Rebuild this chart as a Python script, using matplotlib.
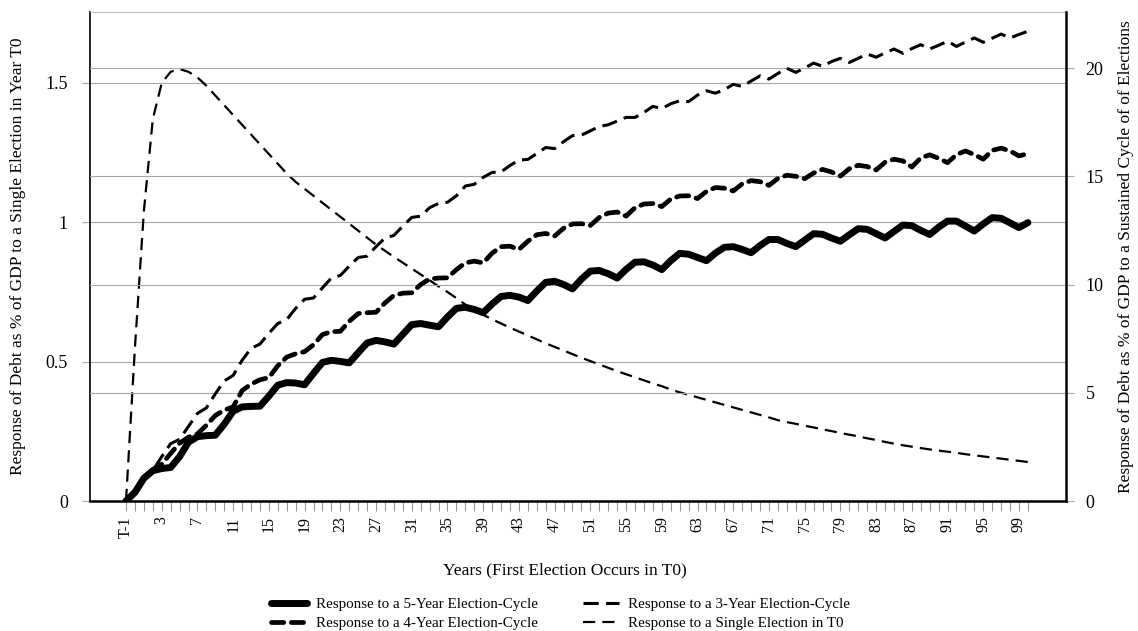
import numpy as np
import matplotlib.pyplot as plt
from matplotlib.lines import Line2D

plt.rcParams['font.family'] = ['Liberation Serif', 'DejaVu Serif']

# ---------------------------
# Data
# ---------------------------
years = ["T-1", "T0"] + [str(y) for y in range(1, 101)]

# left axis: single election in T0
single_election = [
    0.00, 0.55, 1.04, 1.37, 1.50, 1.54, 1.55, 1.54, 1.52, 1.49,
    1.455, 1.42, 1.385, 1.35, 1.315, 1.28, 1.245, 1.21, 1.175, 1.145,
    1.12, 1.095, 1.07, 1.045, 1.02, 0.995, 0.97, 0.945, 0.92, 0.898,
    0.876, 0.855, 0.834, 0.813, 0.792, 0.77, 0.75, 0.728, 0.705, 0.686,
    0.668, 0.652, 0.637, 0.622, 0.608, 0.594, 0.58, 0.566, 0.553, 0.54,
    0.527, 0.514, 0.502, 0.49, 0.478, 0.466, 0.455, 0.444, 0.433, 0.422,
    0.412, 0.40, 0.39, 0.381, 0.372, 0.363, 0.354, 0.345, 0.336, 0.327,
    0.318, 0.309, 0.30, 0.29, 0.283, 0.277, 0.27, 0.264, 0.257, 0.251,
    0.244, 0.238, 0.232, 0.225, 0.219, 0.212, 0.206, 0.20, 0.195, 0.19,
    0.185, 0.181, 0.177, 0.173, 0.168, 0.164, 0.16, 0.156, 0.152, 0.148,
    0.144, 0.14,
]

# right axis: sustained election cycles
cycle_5yr = [
    0.00, 0.40, 1.05, 1.40, 1.50, 1.55, 2.05, 2.72, 2.97, 3.02,
    3.04, 3.55, 4.15, 4.35, 4.37, 4.38, 4.85, 5.35, 5.47, 5.45,
    5.37, 5.90, 6.40, 6.50, 6.45, 6.38, 6.85, 7.30, 7.42, 7.35,
    7.25, 7.70, 8.15, 8.20, 8.12, 8.05, 8.50, 8.90, 8.95, 8.85,
    8.70, 9.10, 9.45, 9.50, 9.42, 9.26, 9.70, 10.10, 10.15, 10.00,
    9.80, 10.25, 10.62, 10.65, 10.50, 10.30, 10.70, 11.03, 11.05, 10.90,
    10.69, 11.10, 11.44, 11.40, 11.25, 11.10, 11.45, 11.72, 11.75, 11.62,
    11.47, 11.80, 12.08, 12.08, 11.90, 11.75, 12.05, 12.35, 12.32, 12.15,
    12.00, 12.30, 12.58, 12.55, 12.35, 12.15, 12.45, 12.75, 12.72, 12.50,
    12.31, 12.65, 12.93, 12.93, 12.70, 12.47, 12.80, 13.09, 13.06, 12.85,
    12.63, 12.86,
]

cycle_4yr = [
    0.00, 0.40, 1.05, 1.45, 1.70, 2.20, 2.67, 2.95, 3.10, 3.50,
    3.95, 4.20, 4.35, 5.10, 5.40, 5.60, 5.70, 6.25, 6.65, 6.80,
    6.90, 7.22, 7.69, 7.82, 7.84, 8.30, 8.66, 8.70, 8.72, 9.15,
    9.50, 9.60, 9.62, 10.00, 10.26, 10.30, 10.31, 10.69, 11.00, 11.08,
    11.00, 11.45, 11.75, 11.77, 11.62, 12.00, 12.30, 12.36, 12.24, 12.60,
    12.80, 12.81, 12.73, 13.10, 13.30, 13.35, 13.16, 13.55, 13.72, 13.74,
    13.60, 13.95, 14.09, 14.10, 13.97, 14.30, 14.48, 14.45, 14.32, 14.65,
    14.80, 14.75, 14.58, 14.90, 15.05, 15.00, 14.89, 15.15, 15.32, 15.20,
    15.01, 15.35, 15.51, 15.45, 15.29, 15.65, 15.79, 15.71, 15.43, 15.85,
    15.99, 15.83, 15.63, 16.00, 16.17, 16.00, 15.79, 16.20, 16.30, 16.17,
    15.94, 16.05,
]

cycle_3yr = [
    0.00, 0.40, 1.05, 1.40, 2.05, 2.65, 2.85, 3.45, 4.05, 4.30,
    4.95, 5.55, 5.80, 6.50, 7.05, 7.25, 7.75, 8.20, 8.38, 8.90,
    9.32, 9.38, 9.85, 10.30, 10.42, 10.85, 11.25, 11.31, 11.75, 12.15,
    12.27, 12.70, 13.10, 13.16, 13.55, 13.75, 13.80, 14.10, 14.55, 14.63,
    14.95, 15.18, 15.20, 15.50, 15.75, 15.78, 16.05, 16.33, 16.28, 16.60,
    16.88, 16.90, 17.10, 17.30, 17.38, 17.55, 17.72, 17.72, 17.95, 18.23,
    18.13, 18.35, 18.49, 18.45, 18.75, 18.95, 18.84, 19.00, 19.25, 19.15,
    19.40, 19.64, 19.49, 19.75, 19.99, 19.80, 20.00, 20.23, 20.08, 20.30,
    20.45, 20.26, 20.45, 20.65, 20.50, 20.70, 20.88, 20.68, 20.90, 21.08,
    20.88, 21.05, 21.24, 21.00, 21.20, 21.39, 21.19, 21.38, 21.57, 21.39,
    21.55, 21.70,
]

left_ticks = [0, 0.5, 1, 1.5]
right_ticks = [0, 5, 10, 15, 20]

x = np.arange(len(years))
tick_labels = [lab if i % 4 == 0 else "" for i, lab in enumerate(years)]

# ---------------------------
# Figure
# ---------------------------
fig = plt.figure(figsize=(11.38, 6.31), dpi=100)
ax = fig.add_axes([0.0791, 0.206, 0.8576, 0.775])
ax2 = ax.twinx()

grid_col = "#a6a6a6"
for v in left_ticks[1:]:
    ax.axhline(v, color=grid_col, lw=0.8, zorder=0)
for v in right_ticks[1:]:
    ax2.axhline(v, color=grid_col, lw=0.8, zorder=0)

ax.plot(x, single_election, color="black", lw=1.6,
        ls=(0, (5.5, 3.2)), zorder=3)

ax2.plot(x, cycle_5yr, color="black", lw=5.0, solid_capstyle="round",
         solid_joinstyle="round", zorder=3)
ax2.plot(x, cycle_4yr, color="black", lw=3.4, ls=(0, (2.6, 1.6)),
         dash_capstyle="round", zorder=3)
ax2.plot(x, cycle_3yr, color="black", lw=2.2, ls=(0, (5.0, 2.4)), zorder=3)

ax.set_xlim(-4.03, 105.26)
ax.set_ylim(0, 1.7547)
ax2.set_ylim(0, 22.59)

ax.set_yticks(left_ticks)
ax.set_yticklabels(["0", "0.5", "1", "1.5"])
ax2.set_yticks(right_ticks)
ax2.set_yticklabels([str(v) for v in right_ticks])

ax.set_xticks(x)
ax.set_xticklabels(tick_labels)

ax.tick_params(axis="y", length=6, width=0.8, color=grid_col, labelsize=13, pad=10)
ax2.tick_params(axis="y", length=6, width=0.8, color=grid_col, labelsize=13, pad=8)
ax.tick_params(axis="x", length=7, width=0.8, color="#999999", labelsize=11.5,
               labelrotation=90, pad=4)

for s in ["left", "bottom"]:
    ax.spines[s].set_color("black")
ax.spines["left"].set_linewidth(1.2)
ax.spines["bottom"].set_linewidth(1.8)
ax.spines["top"].set_color("#b0b0b0")
ax.spines["top"].set_linewidth(0.6)
ax.spines["right"].set_visible(False)
ax2.spines["left"].set_visible(False)
ax2.spines["bottom"].set_visible(False)
ax2.spines["top"].set_visible(False)
ax2.spines["right"].set_color("black")
ax2.spines["right"].set_linewidth(1.8)

ax.set_xlabel("Years (First Election Occurs in T0)", fontsize=12.5)
ax.xaxis.set_label_coords(0.487, -0.125)
ax.set_ylabel("Response of Debt as % of GDP to a Single Election in Year T0",
              fontsize=12.5)
ax.yaxis.set_label_coords(-0.066, 0.5)
ax2.set_ylabel("Response of Debt as % of GDP to a Sustained Cycle of of Elections",
               fontsize=12.5)
ax2.yaxis.set_label_coords(1.053, 0.5)

handles = [
    Line2D([], [], color="black", lw=5.0, solid_capstyle="round"),
    Line2D([], [], color="black", lw=3.4, ls=(0, (2.6, 1.6)), dash_capstyle="round"),
    Line2D([], [], color="black", lw=2.2, ls=(0, (5.0, 2.4))),
    Line2D([], [], color="black", lw=1.6, ls=(0, (5.5, 3.2))),
]
labels = [
    "Response to a 5-Year Election-Cycle",
    "Response to a 4-Year Election-Cycle",
    "Response to a 3-Year Election-Cycle",
    "Response to a Single Election in T0",
]
fig.legend(handles, labels, loc="center", bbox_to_anchor=(0.4926, 0.027),
           ncol=2, frameon=False, fontsize=10.8, handlelength=2.4,
           handletextpad=0.6, columnspacing=3.0, labelspacing=0.35)

fig.savefig("out.png", dpi=100)
plt.close()
